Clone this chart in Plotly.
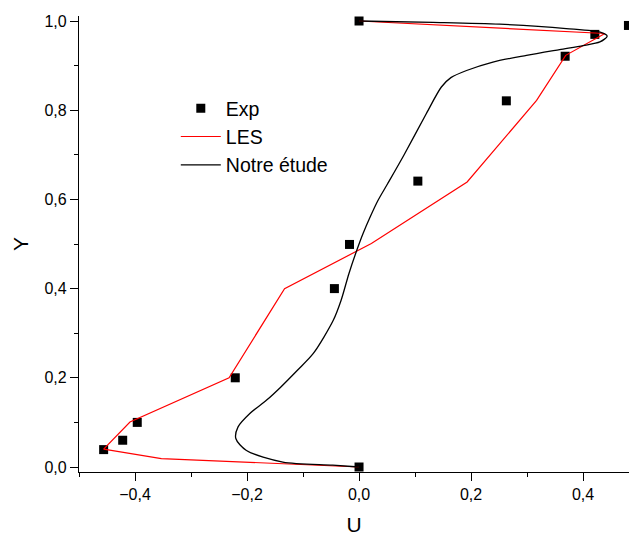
import plotly.graph_objects as go

# Experimental data
exp_u = [0.0, 0.421, 0.481, 0.368, 0.263, 0.105, -0.017, -0.044, -0.221, -0.396, -0.422, -0.456, 0.0]
exp_y = [1.0, 0.970, 0.990, 0.921, 0.821, 0.641, 0.499, 0.400, 0.200, 0.100, 0.060, 0.039, 0.0]

# LES
les_u = [0.0, 0.439, 0.369, 0.317, 0.193, 0.022, -0.133, -0.232, -0.409, -0.456, -0.353, 0.0]
les_y = [1.0, 0.972, 0.923, 0.822, 0.639, 0.501, 0.400, 0.200, 0.101, 0.040, 0.019, 0.0]

# Notre étude
ne_u = [0.0, -0.047, -0.136, -0.201, -0.220, -0.216, -0.195, -0.165, -0.140, -0.110, -0.082,
        -0.046, -0.032, -0.018, -0.004, 0.007, 0.020, 0.034, 0.051, 0.080, 0.120, 0.147,
        0.164, 0.192, 0.239, 0.299, 0.358, 0.400, 0.430, 0.443, 0.433, 0.370, 0.251, 0.132, 0.0]
ne_y = [0.0, 0.004, 0.011, 0.037, 0.064, 0.090, 0.120, 0.150, 0.179, 0.217, 0.254,
        0.329, 0.374, 0.434, 0.486, 0.523, 0.561, 0.598, 0.635, 0.699, 0.792, 0.852,
        0.873, 0.889, 0.908, 0.923, 0.936, 0.945, 0.953, 0.966, 0.974, 0.983, 0.993, 0.997, 1.0]

font = "Arial, Liberation Sans, sans-serif"

fig = go.Figure()
fig.add_trace(go.Scatter(x=exp_u, y=exp_y, mode="markers", name="Exp",
                         marker=dict(symbol="square", size=9, color="black")))
fig.add_trace(go.Scatter(x=les_u, y=les_y, mode="lines", name="LES",
                         line=dict(color="#ff0000", width=1.2)))
fig.add_trace(go.Scatter(x=ne_u, y=ne_y, mode="lines", name="Notre étude",
                         line=dict(color="black", width=1.3, shape="spline", smoothing=0.8)))

axis_common = dict(showgrid=False, zeroline=False, showline=True, linecolor="black", linewidth=1.3,
                   ticks="outside", ticklen=8, tickwidth=1.3, tickcolor="black", dtick=0.2,
                   tickformat=".1f", tickfont=dict(family=font, size=16, color="black"),
                   automargin=False,
                   minor=dict(ticks="outside", ticklen=4, tickwidth=1.3, tickcolor="black", dtick=0.1,
                              showgrid=False))

fig.update_xaxes(range=[-0.5, 0.482], title=dict(text="U", font=dict(family=font, size=21, color="black"),
                                                   standoff=21), **axis_common)
fig.update_yaxes(range=[-0.0112, 1.0112], title=dict(text="Y", font=dict(family=font, size=21, color="black"),
                                                      standoff=10), **axis_common)

fig.update_layout(
    width=629, height=536,
    margin=dict(l=79, r=0, t=16, b=64),
    plot_bgcolor="white", paper_bgcolor="white",
    separators=", ",
    showlegend=True,
    legend=dict(x=0.176, y=0.84, xanchor="left", yanchor="top", bgcolor="rgba(0,0,0,0)",
                font=dict(family=font, size=19.5, color="black"), tracegroupgap=0, itemwidth=40),
)

fig.write_html("out.html")
